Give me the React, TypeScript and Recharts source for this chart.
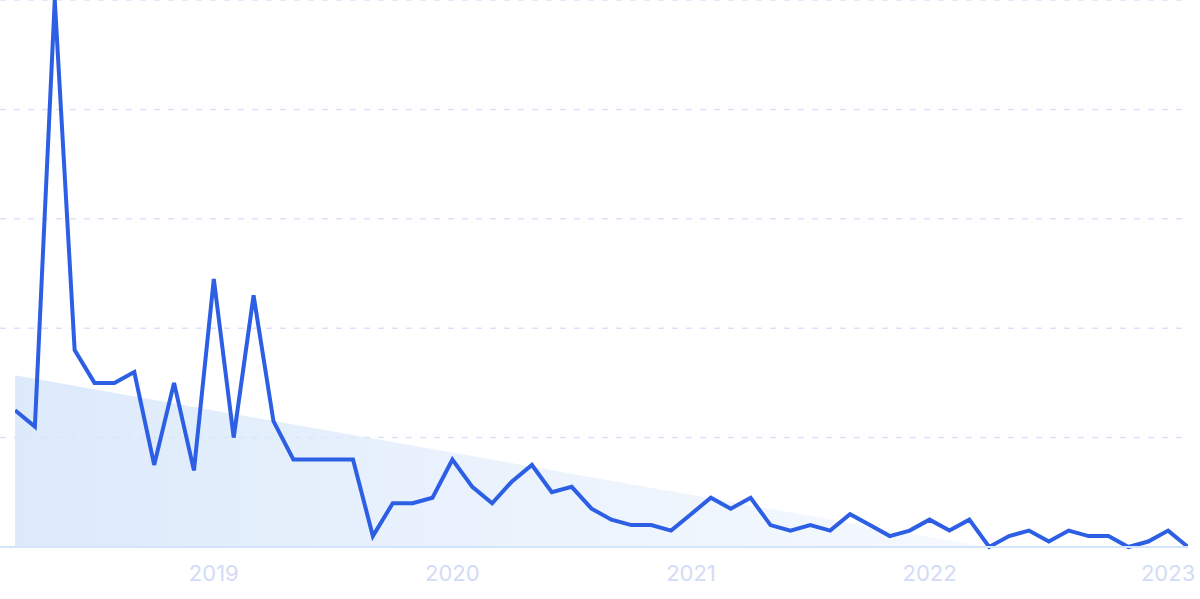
import React from "react";
import {
  ComposedChart,
  Line,
  Area,
  XAxis,
  YAxis,
  CartesianGrid,
} from "recharts";

// Monthly interest, Mar 2018 – Feb 2023 (index 0 = Mar 2018)
const values: number[] = [
  25, 22, 100, 36, 30, 30, 32, 15, 30, 14,
  49, 20, 46, 23, 16, 16, 16, 16, 2, 8,
  8, 9, 16, 11, 8, 12, 15, 10, 11, 7,
  5, 4, 4, 3, 6, 9, 7, 9, 4, 3,
  4, 3, 6, 4, 2, 3, 5, 3, 5, 0,
  2, 3, 1, 3, 2, 2, 0, 1, 3, 0,
];

// Trend line end points (index, value)
const trendIdx: number[] = [0, 48.8];
const trendVal: number[] = [31.4, 0];

// Year tick labels, placed at January of each year
const tickIdx: number[] = [10, 22, 34, 46, 58];
const tickLabels: string[] = ["2019", "2020", "2021", "2022", "2023"];

const yTicks: number[] = [0, 20, 40, 60, 80, 100];

const data = values.map((v, i) => ({ i, v }));
const trendData = trendIdx.map((i, k) => ({ i, t: trendVal[k] }));

export default function App() {
  return (
    <div style={{ position: "absolute", left: 0, top: 0, fontFamily: "Inter, sans-serif" }}>
      <ComposedChart
        width={1200}
        height={599}
        data={data}
        margin={{ top: 0, right: 12, bottom: 0, left: 0 }}
      >
        <defs>
          <linearGradient id="trendFill" x1="0" y1="0" x2="1" y2="0">
            <stop offset="0%" stopColor="#d6e6fa" stopOpacity={0.85} />
            <stop offset="100%" stopColor="#e3eefc" stopOpacity={0.35} />
          </linearGradient>
        </defs>
        <CartesianGrid
          horizontal={true}
          vertical={false}
          stroke="#d9e3fb"
          strokeWidth={1.5}
          strokeDasharray="6 8"
        />
        <XAxis
          dataKey="i"
          type="number"
          domain={[0, 59]}
          ticks={tickIdx}
          tickFormatter={(v: number) => tickLabels[tickIdx.indexOf(v)] ?? ""}
          padding={{ left: 15, right: 0 }}
          height={52}
          tickLine={false}
          tickMargin={12}
          axisLine={{ stroke: "#d4e4fa", strokeWidth: 2 }}
          tick={{ fill: "#d2dcf6", fontSize: 22, fontFamily: "Inter, sans-serif" }}
          interval={0}
          allowDataOverflow
        />
        <YAxis hide domain={[0, 100]} ticks={yTicks} width={0} />
        <Area
          data={trendData}
          dataKey="t"
          type="linear"
          stroke="none"
          fill="url(#trendFill)"
          fillOpacity={1}
          isAnimationActive={false}
          dot={false}
          activeDot={false}
        />
        <Line
          dataKey="v"
          type="linear"
          stroke="#2d5fe5"
          strokeWidth={4}
          strokeLinejoin="miter"
          dot={false}
          activeDot={false}
          isAnimationActive={false}
        />
      </ComposedChart>
    </div>
  );
}
